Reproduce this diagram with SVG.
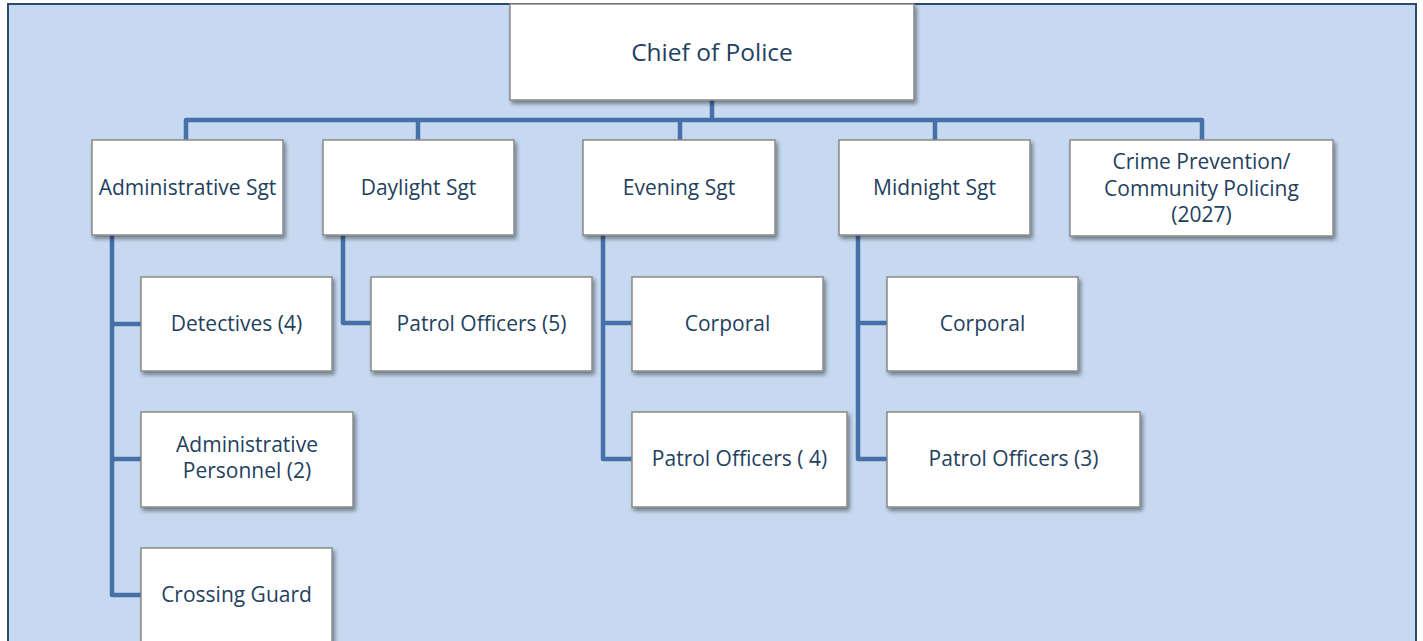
<svg xmlns="http://www.w3.org/2000/svg" width="1423" height="641" viewBox="0 0 1423 641">
  <defs>
    <filter id="shadow" x="-10%" y="-10%" width="130%" height="140%">
      <feGaussianBlur in="SourceAlpha" stdDeviation="2"/>
      <feOffset dx="2" dy="3" result="blur"/>
      <feComponentTransfer><feFuncA type="linear" slope="0.45"/></feComponentTransfer>
      <feMerge><feMergeNode/><feMergeNode in="SourceGraphic"/></feMerge>
    </filter>
  </defs>
  <style>
    .bg { fill: #c6d9f0; stroke: #2e4a6f; stroke-width: 2; }
    .box { fill: #ffffff; stroke: #8a8a8a; stroke-width: 1.5; filter: url(#shadow); }
    .lbl { font-family: "Open Sans", "Liberation Sans", sans-serif; font-size: 21px; fill: #243f60; text-anchor: middle; }
    .big { font-size: 24.5px; }
    .wire { fill: none; stroke: #4570a8; stroke-width: 4.5; stroke-linejoin: round; stroke-linecap: butt; }
  </style>

  <!-- panel -->
  <rect class="bg" x="8" y="4" width="1408" height="660"/>

  <!-- reporting lines -->
  <g id="connectors">
    <path class="wire" d="M712 100 V120"/>
    <path class="wire" d="M186 140 V120 H1202 V140"/>
    <path class="wire" d="M418 120 V140"/>
    <path class="wire" d="M680 120 V140"/>
    <path class="wire" d="M935 120 V140"/>
    <!-- Administrative Sgt branch -->
    <path class="wire" d="M112 235 V595 H141"/>
    <path class="wire" d="M112 324 H141"/>
    <path class="wire" d="M112 459 H141"/>
    <!-- Daylight Sgt branch -->
    <path class="wire" d="M343 235 V323 H371"/>
    <!-- Evening Sgt branch -->
    <path class="wire" d="M603 235 V459 H632"/>
    <path class="wire" d="M603 323 H632"/>
    <!-- Midnight Sgt branch -->
    <path class="wire" d="M858 235 V459 H887"/>
    <path class="wire" d="M858 323 H887"/>
  </g>

  <g id="chief">
    <rect class="box" x="510" y="4" width="404" height="96"/>
    <text class="lbl big" x="712" y="61">Chief of Police</text>
  </g>

  <g id="admin-sgt">
    <rect class="box" x="92" y="140" width="191" height="95"/>
    <text class="lbl" x="187.5" y="195">Administrative Sgt</text>
  </g>
  <g id="daylight-sgt">
    <rect class="box" x="323" y="140" width="191" height="95"/>
    <text class="lbl" x="418.5" y="195">Daylight Sgt</text>
  </g>
  <g id="evening-sgt">
    <rect class="box" x="583" y="140" width="192" height="95"/>
    <text class="lbl" x="679" y="195">Evening Sgt</text>
  </g>
  <g id="midnight-sgt">
    <rect class="box" x="839" y="140" width="191" height="95"/>
    <text class="lbl" x="934.5" y="195">Midnight Sgt</text>
  </g>
  <g id="crime-prevention">
    <rect class="box" x="1070" y="140" width="263" height="96"/>
    <text class="lbl" x="1201.5" y="169">Crime Prevention/</text>
    <text class="lbl" x="1201.5" y="196">Community Policing</text>
    <text class="lbl" x="1201.5" y="222">(2027)</text>
  </g>

  <g id="detectives">
    <rect class="box" x="141" y="277" width="191" height="94"/>
    <text class="lbl" x="236.5" y="331">Detectives (4)</text>
  </g>
  <g id="admin-personnel">
    <rect class="box" x="141" y="412" width="212" height="95"/>
    <text class="lbl" x="247" y="452">Administrative</text>
    <text class="lbl" x="247" y="478">Personnel (2)</text>
  </g>
  <g id="crossing-guard">
    <rect class="box" x="141" y="548" width="191" height="95"/>
    <text class="lbl" x="236.5" y="602">Crossing Guard</text>
  </g>

  <g id="daylight-patrol">
    <rect class="box" x="371" y="277" width="221" height="94"/>
    <text class="lbl" x="481.5" y="331">Patrol Officers (5)</text>
  </g>

  <g id="evening-corporal">
    <rect class="box" x="632" y="277" width="191" height="94"/>
    <text class="lbl" x="727.5" y="331">Corporal</text>
  </g>
  <g id="evening-patrol">
    <rect class="box" x="632" y="412" width="215" height="95"/>
    <text class="lbl" x="739.5" y="466">Patrol Officers ( 4)</text>
  </g>

  <g id="midnight-corporal">
    <rect class="box" x="887" y="277" width="191" height="94"/>
    <text class="lbl" x="982.5" y="331">Corporal</text>
  </g>
  <g id="midnight-patrol">
    <rect class="box" x="887" y="412" width="253" height="95"/>
    <text class="lbl" x="1013.5" y="466">Patrol Officers (3)</text>
  </g>
</svg>
